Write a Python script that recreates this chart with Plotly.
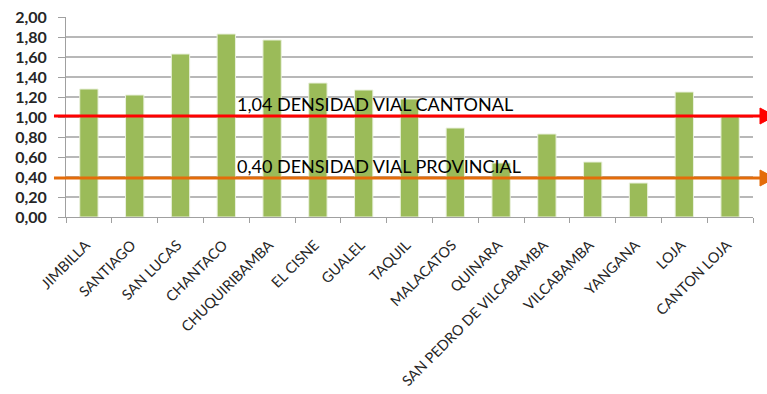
import plotly.graph_objects as go

categories = ["JIMBILLA", "SANTIAGO", "SAN LUCAS", "CHANTACO", "CHUQUIRIBAMBA",
              "EL CISNE", "GUALEL", "TAQUIL", "MALACATOS", "QUINARA",
              "SAN PEDRO DE VILCABAMBA", "VILCABAMBA", "YANGANA", "LOJA", "CANTON LOJA"]
densidad = [1.28, 1.22, 1.63, 1.83, 1.77, 1.34, 1.27, 1.18, 0.89, 0.54,
            0.83, 0.55, 0.34, 1.25, 1.01]

cantonal_value = 1.01
cantonal_label = "1,04 DENSIDAD VIAL CANTONAL"
provincial_value = 0.39
provincial_label = "0,40 DENSIDAD VIAL PROVINCIAL"

y_ticks = [0, 0.2, 0.4, 0.6, 0.8, 1.0, 1.2, 1.4, 1.6, 1.8, 2.0]

ref_values = [cantonal_value, provincial_value]
ref_colors = ["#FF0000", "#E46C0A"]
ref_labels = [cantonal_label, provincial_label]

fig = go.Figure()
fig.add_trace(go.Bar(
    x=categories, y=densidad,
    marker=dict(color="#9BBB59", line=dict(color="#EAF1DD", width=1)),
    width=0.4, hoverinfo="x+y",
))

# reference lines (span beyond plot to the right) with arrowheads
for val, col in zip(ref_values, ref_colors):
    fig.add_shape(type="line", xref="paper", yref="y",
                  x0=-0.0175, x1=1.012, y0=val, y1=val,
                  line=dict(color=col, width=3), layer="above")
    fig.add_shape(type="path", xref="paper", yref="y",
                  xsizemode="pixel", ysizemode="pixel",
                  xanchor=1.0, yanchor=val,
                  path="M 7,-8 L 22,0 L 7,8 Z",
                  fillcolor=col, line=dict(color=col, width=1), layer="above")

for val, txt in zip(ref_values, ref_labels):
    fig.add_annotation(xref="paper", yref="y", x=0.246, y=val,
                       xanchor="left", yanchor="bottom", yshift=-1,
                       showarrow=False, text=txt,
                       font=dict(family="Lato", size=18, color="#000000"))

fig.update_layout(
    width=767, height=394,
    margin=dict(l=66, r=14, t=17, b=177, autoexpand=False),
    paper_bgcolor="white", plot_bgcolor="white",
    separators=", ",
    showlegend=False,
    bargap=0.6,
    xaxis=dict(
        type="category", tickangle=-45, tickson="boundaries",
        ticks="outside", ticklen=5, tickcolor="#A0A0A0",
        showline=True, linecolor="#A0A0A0", linewidth=1,
        tickfont=dict(family="Lato", size=14.5, color="#262626"),
        ticklabelstandoff=13, ticklabelshift=-3,
        showgrid=False, automargin=False,
    ),
    yaxis=dict(
        range=[0, 2.0], tickvals=y_ticks, tickformat=".2f",
        showgrid=True, gridcolor="#B8B8B8", gridwidth=1.5,
        ticks="outside", ticklen=7, tickcolor="#A0A0A0",
        showline=True, linecolor="#A0A0A0", linewidth=1,
        tickfont=dict(family="Lato", size=16, color="#262626", weight="bold"),
        ticklabelstandoff=8, ticklabeloverflow="allow",
        zeroline=False, automargin=False,
    ),
)

fig.write_html("out.html",
               config={"displayModeBar": False},
               post_script="document.body.style.margin='0px';document.body.style.overflow='hidden';")
